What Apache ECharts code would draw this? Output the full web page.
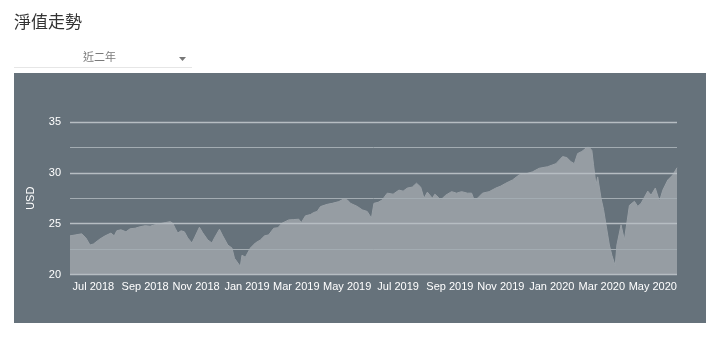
<!DOCTYPE html>
<html>
<head>
<meta charset="utf-8">
<script src="https://cdn.jsdelivr.net/npm/echarts@6/dist/echarts.min.js"></script>
<style>
  html, body { margin: 0; padding: 0; background: #ffffff; }
  #chart { width: 720px; height: 346px; }
</style>
</head>
<body>
<div id="chart"></div>
<script>
// Net asset value per share (USD), two-year window
const navDates = [
  '2018-06-03','2018-06-10','2018-06-17','2018-06-22','2018-06-27','2018-07-01','2018-07-09','2018-07-15',
  '2018-07-22','2018-07-26','2018-07-29','2018-08-03','2018-08-09','2018-08-14','2018-08-20','2018-08-26',
  '2018-09-01','2018-09-07','2018-09-13','2018-09-19','2018-09-25','2018-10-01','2018-10-04','2018-10-07',
  '2018-10-10','2018-10-14','2018-10-18','2018-10-22','2018-10-27','2018-10-30','2018-11-05','2018-11-09',
  '2018-11-15','2018-11-20','2018-11-23','2018-11-29','2018-12-03','2018-12-09','2018-12-14','2018-12-17',
  '2018-12-24','2018-12-26','2018-12-30','2019-01-05','2019-01-11','2019-01-17','2019-01-22','2019-01-27',
  '2019-02-02','2019-02-07','2019-02-12','2019-02-20','2019-02-26','2019-03-04','2019-03-07','2019-03-12',
  '2019-03-18','2019-03-22','2019-03-26','2019-03-30','2019-04-07','2019-04-13','2019-04-21','2019-04-26',
  '2019-05-01','2019-05-05','2019-05-07','2019-05-13','2019-05-19','2019-05-25','2019-05-30','2019-06-02',
  '2019-06-07','2019-06-12','2019-06-18','2019-06-25','2019-07-02','2019-07-07','2019-07-12','2019-07-18',
  '2019-07-23','2019-07-28','2019-08-01','2019-08-05','2019-08-11','2019-08-14','2019-08-18','2019-08-21',
  '2019-08-27','2019-09-03','2019-09-09','2019-09-15','2019-09-22','2019-09-27','2019-09-30','2019-10-04',
  '2019-10-10','2019-10-18','2019-10-26','2019-11-01','2019-11-07','2019-11-15','2019-11-23','2019-12-01',
  '2019-12-09','2019-12-17','2019-12-27','2020-01-06','2020-01-14','2020-01-19','2020-01-24','2020-01-28',
  '2020-02-01','2020-02-06','2020-02-12','2020-02-15','2020-02-18','2020-02-20','2020-02-23','2020-02-25',
  '2020-02-29','2020-03-03','2020-03-06','2020-03-10','2020-03-13','2020-03-17','2020-03-19','2020-03-24',
  '2020-03-28','2020-04-03','2020-04-09','2020-04-13','2020-04-17','2020-04-25','2020-04-29','2020-05-04',
  '2020-05-09','2020-05-13','2020-05-19','2020-05-25','2020-05-30'
];
const navValues = [
  23.8, 23.9, 24.0, 23.6, 22.9, 23.0, 23.5, 23.8,
  24.07, 23.8, 24.3, 24.4, 24.2, 24.5, 24.55, 24.7,
  24.8, 24.75, 24.9, 25.0, 25.1, 25.2, 25.05, 24.55,
  24.07, 24.3, 24.2, 23.6, 23.1, 23.6, 24.65, 24.1,
  23.4, 23.1, 23.6, 24.45, 23.8, 22.9, 22.6, 21.6,
  20.8, 21.9, 21.7, 22.6, 23.1, 23.4, 23.8, 23.9,
  24.55, 24.6, 25.05, 25.37, 25.4, 25.44, 25.1, 25.77,
  25.9, 26.1, 26.2, 26.68, 26.9, 27.0, 27.17, 27.4,
  27.35, 27.0, 26.85, 26.7, 26.36, 26.2, 25.54, 27.0,
  27.1, 27.34, 28.0, 27.9, 28.3, 28.2, 28.5, 28.6,
  28.98, 28.6, 27.5, 28.1, 27.5, 27.9, 27.6, 27.34,
  27.8, 28.15, 28.0, 28.15, 28.0, 28.0, 27.34, 27.5,
  28.0, 28.15, 28.5, 28.7, 28.98, 29.3, 29.8, 29.9,
  30.1, 30.45, 30.6, 30.9, 31.6, 31.5, 31.1, 30.9,
  31.9, 32.1, 32.5, 32.5, 32.2, 30.8, 28.8, 29.6,
  27.5, 26.4, 24.9, 22.9, 21.9, 20.85, 22.9, 24.88,
  23.4, 26.8, 27.2, 26.7, 27.0, 28.2, 27.8, 28.5,
  27.2, 28.3, 29.3, 29.8, 30.5
];

// Bottom axis: one label every two months
const tickDates = [
  '2018-07-01','2018-09-01','2018-11-01','2019-01-01','2019-03-01','2019-05-01',
  '2019-07-01','2019-09-01','2019-11-01','2020-01-01','2020-03-01','2020-05-01'
];
const tickLabels = [
  'Jul 2018','Sep 2018','Nov 2018','Jan 2019','Mar 2019','May 2019',
  'Jul 2019','Sep 2019','Nov 2019','Jan 2020','Mar 2020','May 2020'
];

const rangeStart = '2018-06-03';
const rangeEnd = '2020-05-30';

// Dates are plotted as UTC milliseconds on a numeric axis
function toTime(s) {
  const p = s.split('-').map(Number);
  return Date.UTC(p[0], p[1] - 1, p[2]);
}

const tickTimes = tickDates.map(toTime);
const seriesData = navDates.map((d, i) => [toTime(d), navValues[i]]);

const chart = echarts.init(document.getElementById('chart'), null, { renderer: 'canvas' });

const baseFont = "'Liberation Sans', Arial, sans-serif";
const cjkFont = "'Noto Sans CJK TC', 'Noto Sans', sans-serif";

chart.setOption({
  animation: false,
  backgroundColor: '#ffffff',
  title: {
    text: '淨值走勢',
    left: 9,
    top: 8,
    textStyle: { fontFamily: cjkFont, fontSize: 17, fontWeight: 'normal', color: '#333333' }
  },
  graphic: [
    {
      type: 'rect',
      z: -10,
      shape: { x: 14, y: 73, width: 692, height: 250 },
      style: { fill: '#66727b' }
    },
    {
      type: 'text',
      x: 83,
      y: 51,
      style: { text: '近二年', font: "11px 'Noto Sans CJK TC', sans-serif", fill: '#7a7a7a' }
    },
    {
      type: 'polygon',
      shape: { points: [[179, 57], [186, 57], [182.5, 61]] },
      style: { fill: '#777777' }
    },
    {
      type: 'line',
      shape: { x1: 14, y1: 67.5, x2: 192, y2: 67.5 },
      style: { stroke: '#e6e6e6', lineWidth: 1 }
    }
  ],
  grid: {
    left: 70,
    right: 43,
    top: 122,
    bottom: 71.5
  },
  xAxis: {
    type: 'value',
    min: toTime(rangeStart),
    max: toTime(rangeEnd),
    axisLine: { show: false },
    axisTick: { show: false },
    splitLine: { show: false },
    axisLabel: {
      customValues: tickTimes,
      color: '#ffffff',
      fontFamily: baseFont,
      fontSize: 11,
      margin: 7,
      formatter: function (val) {
        const i = tickTimes.indexOf(val);
        return i >= 0 ? tickLabels[i] : '';
      }
    }
  },
  yAxis: {
    type: 'value',
    z: 5,
    min: 20,
    max: 35,
    interval: 5,
    name: 'USD',
    nameLocation: 'middle',
    nameRotate: 90,
    nameGap: 34,
    nameTextStyle: { color: '#ffffff', fontFamily: baseFont, fontSize: 11 },
    axisLine: { show: false },
    axisTick: { show: false },
    axisLabel: { color: '#ffffff', fontFamily: baseFont, fontSize: 11, margin: 9 },
    splitLine: { show: true, lineStyle: { color: '#b6bdc2', width: 1.3 } },
    minorTick: { show: false, splitNumber: 2 },
    minorSplitLine: { show: true, lineStyle: { color: '#a3acb2', width: 1 } }
  },
  series: [
    {
      type: 'line',
      data: seriesData,
      showSymbol: false,
      symbol: 'none',
      lineStyle: { width: 1, color: '#9aa1a7' },
      areaStyle: { color: '#969da3', opacity: 1, origin: 'start' }
    }
  ]
});
</script>
</body>
</html>
